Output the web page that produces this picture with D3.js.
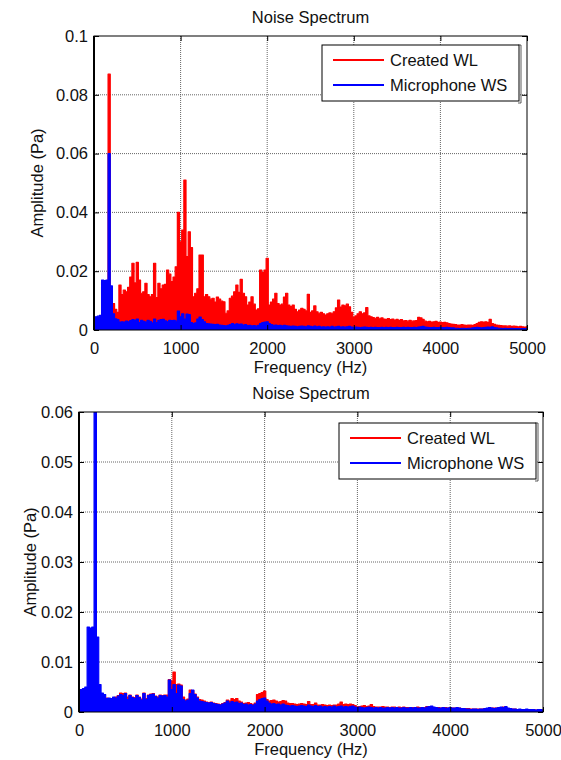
<!DOCTYPE html>
<html>
<head>
<meta charset="utf-8">
<script src="https://cdn.jsdelivr.net/npm/d3@7/dist/d3.min.js"></script>
<style>
  body { margin: 0; background: #fff; }
  text { font-family: "Liberation Sans", Arial, sans-serif; fill: #111; }
</style>
</head>
<body>
<div id="chart"></div>
<script>
// FFT bins are 25 Hz apart, value i sits at i*25 Hz
const binHz = 25
const xTicks = [0, 1000, 2000, 3000, 4000, 5000]
const yTicksTop = [0, 0.02, 0.04, 0.06, 0.08, 0.1]
const yTicksBottom = [0, 0.01, 0.02, 0.03, 0.04, 0.05, 0.06]
const seriesNames = ["Created WL", "Microphone WS"]
const seriesColors = ["#ff0000", "#0000ff"]

// Created WL, upper panel (Pa)
const createdTop = [
  0.002, 0.0025, 0.002, 0.0022, 0.0025, 0.003, 0.004, 0.087,
  0.006, 0.009, 0.007, 0.006, 0.0153, 0.012, 0.0136, 0.013,
  0.0145, 0.018, 0.0227, 0.016, 0.023, 0.017, 0.0125, 0.013,
  0.0159, 0.012, 0.0113, 0.012, 0.0227, 0.011, 0.0159, 0.014,
  0.0153, 0.0155, 0.0204, 0.019, 0.0165, 0.018, 0.0215, 0.040,
  0.030, 0.034, 0.051, 0.025, 0.0334, 0.028, 0.0113, 0.0125,
  0.014, 0.0255, 0.0255, 0.0113, 0.012, 0.0113, 0.0105, 0.0108,
  0.0095, 0.0112, 0.0105, 0.0098, 0.0096, 0.0057, 0.0065, 0.0108,
  0.0115, 0.013, 0.0153, 0.0128, 0.0172, 0.0125, 0.0113, 0.0085,
  0.0095, 0.0113, 0.0088, 0.0068, 0.0072, 0.0204, 0.0195, 0.0204,
  0.0244, 0.0085, 0.0095, 0.0105, 0.0125, 0.009, 0.0085, 0.0088,
  0.0112, 0.0125, 0.0085, 0.008, 0.0085, 0.007, 0.0062, 0.0068,
  0.0074, 0.007, 0.0065, 0.0121, 0.006, 0.0065, 0.0082, 0.0062,
  0.0057, 0.006, 0.0055, 0.0051, 0.0055, 0.0058, 0.0057, 0.0062,
  0.0075, 0.0102, 0.0078, 0.0085, 0.0082, 0.0088, 0.0079, 0.006,
  0.0043, 0.0048, 0.0055, 0.0062, 0.0055, 0.0058, 0.0076, 0.0048,
  0.0045, 0.0042, 0.004, 0.0043, 0.0038, 0.0041, 0.0037, 0.0036,
  0.0039, 0.0035, 0.0037, 0.0034, 0.0036, 0.0033, 0.0035, 0.0031,
  0.0032, 0.003, 0.0033, 0.003, 0.0031, 0.0032, 0.0043, 0.0041,
  0.0036, 0.003, 0.0028, 0.0029, 0.0027, 0.0028, 0.0029, 0.0026,
  0.0027, 0.0025, 0.0026, 0.0024, 0.0022, 0.002, 0.0019, 0.0018,
  0.0017, 0.0017, 0.0018, 0.0017, 0.0016, 0.0017, 0.0017, 0.0016,
  0.0018, 0.0022, 0.0026, 0.0028, 0.0027, 0.0028, 0.0026, 0.0036,
  0.0022, 0.0019, 0.0017, 0.0016, 0.0015, 0.0014, 0.0014, 0.0013,
  0.0014, 0.0012, 0.0013, 0.0012, 0.0011, 0.0012, 0.0011, 0.001,
  0.0011
]

// Created WL, lower panel (Pa)
const createdBottom = [
  0.001, 0.001, 0.001, 0.0012, 0.0015, 0.002, 0.003, 0.013,
  0.002, 0.0025, 0.0022, 0.002, 0.0028, 0.0026, 0.0027, 0.0029,
  0.003, 0.0033, 0.0038, 0.0037, 0.0038, 0.003, 0.0034, 0.003,
  0.0029, 0.0034, 0.003, 0.0026, 0.0038, 0.0027, 0.0034, 0.0036,
  0.0037, 0.0032, 0.003, 0.0034, 0.0033, 0.0034, 0.0034, 0.0065,
  0.0062, 0.008, 0.0055, 0.0056, 0.0054, 0.003, 0.0024, 0.0026,
  0.0044, 0.0043, 0.0036, 0.003, 0.0025, 0.0024, 0.0022, 0.002,
  0.0019, 0.002, 0.0018, 0.0017, 0.0016, 0.0015, 0.0017, 0.0019,
  0.0024, 0.0022, 0.0027, 0.0025, 0.0027, 0.0022, 0.002, 0.0017,
  0.0018, 0.0019, 0.0017, 0.0015, 0.0018, 0.0035, 0.0037, 0.0039,
  0.0042, 0.0025, 0.0022, 0.0023, 0.0024, 0.0022, 0.002, 0.0021,
  0.0023, 0.0022, 0.0018, 0.0017, 0.0017, 0.0016, 0.0015, 0.0016,
  0.0017, 0.0016, 0.0015, 0.0021, 0.0015, 0.0015, 0.0018, 0.0014,
  0.0014, 0.0015, 0.0014, 0.0013, 0.0014, 0.0013, 0.0014, 0.0014,
  0.0016, 0.002, 0.0015, 0.0016, 0.0015, 0.0016, 0.0015, 0.0013,
  0.001, 0.0011, 0.0012, 0.0013, 0.0011, 0.0012, 0.0015, 0.0011,
  0.001, 0.001, 0.001, 0.0011, 0.001, 0.001, 0.0009, 0.001,
  0.001, 0.0009, 0.001, 0.0009, 0.001, 0.0009, 0.0009, 0.0009,
  0.0009, 0.0009, 0.001, 0.0009, 0.0009, 0.0009, 0.0011, 0.0011,
  0.001, 0.0009, 0.0009, 0.0009, 0.0008, 0.0009, 0.0009, 0.0008,
  0.0009, 0.0008, 0.0008, 0.0008, 0.0008, 0.0007, 0.0007, 0.0007,
  0.0007, 0.0006, 0.0006, 0.0006, 0.0006, 0.0006, 0.0006, 0.0007,
  0.0007, 0.0008, 0.0008, 0.0008, 0.0008, 0.0009, 0.0009, 0.001,
  0.0009, 0.0007, 0.0006, 0.0006, 0.0006, 0.0005, 0.0005, 0.0005,
  0.0005, 0.0005, 0.0005, 0.0005, 0.0005, 0.0004, 0.0004, 0.0004,
  0.0004
]

// Microphone WS, same in both panels (Pa)
const micWS = [
  0.0045, 0.0045, 0.0047, 0.005, 0.017, 0.0168, 0.017, 0.060,
  0.015, 0.0055, 0.0038, 0.0035, 0.0027, 0.0028, 0.0027, 0.003,
  0.0028, 0.0032, 0.0035, 0.0033, 0.0037, 0.0025, 0.0033, 0.0029,
  0.0027, 0.0033, 0.0029, 0.0024, 0.0037, 0.0025, 0.0033, 0.0035,
  0.0036, 0.0031, 0.0028, 0.0033, 0.0032, 0.0033, 0.003, 0.0064,
  0.0045, 0.0055, 0.0037, 0.0054, 0.0052, 0.0025, 0.0022, 0.0024,
  0.0037, 0.0044, 0.0035, 0.0028, 0.0022, 0.0021, 0.002, 0.0019,
  0.0018, 0.0019, 0.0017, 0.0016, 0.0015, 0.0014, 0.0016, 0.0018,
  0.0022, 0.0018, 0.0021, 0.0019, 0.002, 0.0017, 0.0018, 0.0015,
  0.0016, 0.0014, 0.0015, 0.0013, 0.0016, 0.0022, 0.0025, 0.0027,
  0.0028, 0.0022, 0.0018, 0.0016, 0.0017, 0.0015, 0.0016, 0.0014,
  0.0016, 0.0014, 0.0013, 0.0012, 0.0013, 0.0012, 0.0011, 0.0012,
  0.0013, 0.0012, 0.0011, 0.0014, 0.0012, 0.0011, 0.0013, 0.0011,
  0.0012, 0.001, 0.0011, 0.001, 0.0011, 0.001, 0.0012, 0.001,
  0.0011, 0.0012, 0.001, 0.0011, 0.001, 0.0011, 0.0012, 0.001,
  0.0009, 0.001, 0.0009, 0.0008, 0.0009, 0.001, 0.0009, 0.0008,
  0.0009, 0.0008, 0.0009, 0.0008, 0.0008, 0.0009, 0.0008, 0.0009,
  0.0008, 0.0009, 0.0008, 0.0008, 0.0009, 0.0008, 0.0008, 0.0009,
  0.0008, 0.0009, 0.0008, 0.0008, 0.0009, 0.0008, 0.001, 0.0011,
  0.0012, 0.001, 0.0009, 0.0008, 0.0008, 0.0009, 0.0008, 0.0008,
  0.0009, 0.0008, 0.0008, 0.0009, 0.0008, 0.0007, 0.0007, 0.0006,
  0.0006, 0.0005, 0.0006, 0.0006, 0.0005, 0.0006, 0.0006, 0.0007,
  0.0008, 0.0009, 0.0008, 0.0007, 0.0008, 0.0009, 0.001, 0.0009,
  0.0011, 0.0008, 0.0007, 0.0006, 0.0006, 0.0005, 0.0006, 0.0005,
  0.0005, 0.0006, 0.0005, 0.0005, 0.0005, 0.0004, 0.0005, 0.0005,
  0.0004
]

const fs = 16.5
const svg = d3.select('#chart')
  .append('svg')
  .attr('width', 561)
  .attr('height', 760)

drawPanel({
  id: 'top', left: 94, right: 527, top: 36, bottom: 330,
  yMax: 0.1, yTicks: yTicksTop, red: createdTop,
  legend: { x: 322, y: 45 }, ylabelX: 43
})
drawPanel({
  id: 'bot', left: 79, right: 543, top: 412, bottom: 712,
  yMax: 0.06, yTicks: yTicksBottom, red: createdBottom,
  legend: { x: 339, y: 423 }, ylabelX: 36
})

function drawPanel(p) {
  const x = d3.scaleLinear().domain([0, 5000]).range([p.left, p.right])
  const y = d3.scaleLinear().domain([0, p.yMax]).range([p.bottom, p.top])
  const g = svg.append('g')

  // dotted grid
  const grid = g.append('g')
    .attr('stroke', '#555')
    .attr('stroke-width', 0.9)
    .attr('stroke-dasharray', '1,1')
  grid.selectAll('.vx').data(xTicks.slice(1, -1)).join('line')
    .attr('x1', d => x(d)).attr('x2', d => x(d))
    .attr('y1', p.top).attr('y2', p.bottom)
  grid.selectAll('.hy').data(p.yTicks.slice(1, -1)).join('line')
    .attr('x1', p.left).attr('x2', p.right)
    .attr('y1', d => y(d)).attr('y2', d => y(d))

  // spectra
  g.append('clipPath').attr('id', 'clip-' + p.id)
    .append('rect')
    .attr('x', p.left).attr('y', p.top)
    .attr('width', p.right - p.left).attr('height', p.bottom - p.top)

  const area = d3.area()
    .curve(d3.curveStep)
    .x((d, i) => x(i * binHz))
    .y0(y(0))
    .y1(d => y(d))
  const line = d3.line()
    .curve(d3.curveStep)
    .x((d, i) => x(i * binHz))
    .y(d => y(d))

  const plots = g.append('g').attr('clip-path', `url(#clip-${p.id})`)
  ;[p.red, micWS].forEach(function(vals, k) {
    plots.append('path')
      .datum(vals)
      .attr('d', area)
      .attr('fill', seriesColors[k])
    plots.append('path')
      .datum(vals)
      .attr('d', line)
      .attr('fill', 'none')
      .attr('stroke', seriesColors[k])
      .attr('stroke-width', 1.2)
      .attr('stroke-linejoin', 'round')
  })

  // axes, ticks pointing inward on every side
  const bottomAx = g.append('g')
    .attr('transform', `translate(0,${p.bottom})`)
    .call(d3.axisBottom(x).tickValues(xTicks).tickSize(-5).tickPadding(12).tickFormat(d => d))
  const leftAx = g.append('g')
    .attr('transform', `translate(${p.left},0)`)
    .call(d3.axisLeft(y).tickValues(p.yTicks).tickSize(-5).tickPadding(6).tickFormat(d => d))
  const topAx = g.append('g')
    .attr('transform', `translate(0,${p.top})`)
    .call(d3.axisTop(x).tickValues(xTicks).tickSize(-5).tickFormat(''))
  const rightAx = g.append('g')
    .attr('transform', `translate(${p.right},0)`)
    .call(d3.axisRight(y).tickValues(p.yTicks).tickSize(-5).tickFormat(''))

  ;[bottomAx, leftAx, topAx, rightAx].forEach(function(a) {
    a.select('.domain').remove()
    a.selectAll('line').attr('stroke', '#000')
    a.selectAll('text')
      .style('font-size', fs + 'px')
      .style('font-family', '"Liberation Sans", Arial, sans-serif')
      .attr('fill', '#111')
  })

  // box
  g.append('rect')
    .attr('x', p.left).attr('y', p.top)
    .attr('width', p.right - p.left).attr('height', p.bottom - p.top)
    .attr('fill', 'none')
    .attr('stroke', '#000')
    .attr('stroke-width', 1)
  g.append('line')
    .attr('x1', p.left).attr('x2', p.left)
    .attr('y1', p.top).attr('y2', p.bottom)
    .attr('stroke', '#000')
    .attr('stroke-width', 2)

  // title and labels
  const cx = (p.left + p.right) / 2
  g.append('text')
    .attr('x', cx).attr('y', p.top - 13)
    .attr('text-anchor', 'middle')
    .style('font-size', fs + 'px')
    .text('Noise Spectrum')
  g.append('text')
    .attr('x', cx).attr('y', p.bottom + 43)
    .attr('text-anchor', 'middle')
    .style('font-size', fs + 'px')
    .text('Frequency (Hz)')
  g.append('text')
    .attr('transform', `translate(${p.ylabelX},${(p.top + p.bottom) / 2}) rotate(-90)`)
    .attr('text-anchor', 'middle')
    .style('font-size', fs + 'px')
    .text('Amplitude (Pa)')

  // legend
  const lw = 197, lh = 56
  const lg = g.append('g').attr('transform', `translate(${p.legend.x},${p.legend.y})`)
  lg.append('rect')
    .attr('width', lw).attr('height', lh)
    .attr('fill', '#fff')
    .attr('stroke', '#000')
    .attr('stroke-width', 1)
  lg.append('path')
    .attr('d', `M${lw - 1},0 H${lw + 2} V${lh + 2} H${lw - 1}`)
    .attr('fill', 'none')
    .attr('stroke', '#333')
    .attr('stroke-width', 0.8)
  const item = lg.selectAll('.item')
    .data(seriesNames)
    .join('g')
    .attr('transform', (d, i) => `translate(0,${15 + i * 25})`)
  item.append('line')
    .attr('x1', 11).attr('x2', 62)
    .attr('stroke', (d, i) => seriesColors[i])
    .attr('stroke-width', 2)
  item.append('text')
    .attr('x', 68).attr('y', 6)
    .style('font-size', fs + 'px')
    .text(d => d)
}
</script>
</body>
</html>
